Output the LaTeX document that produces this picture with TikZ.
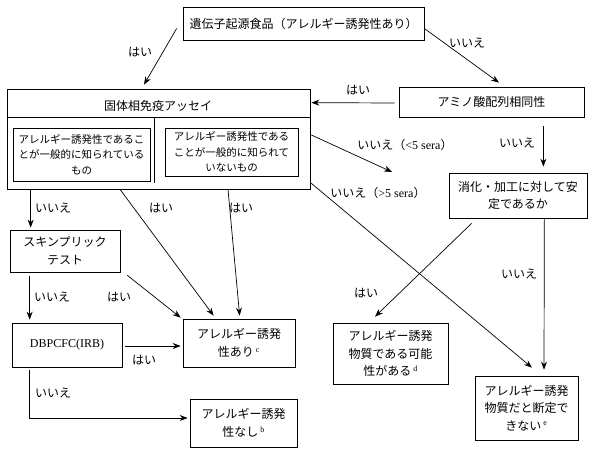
\documentclass[tikz,border=0pt]{standalone}
\usepackage{fontspec}
\setmainfont{Liberation Serif}
\newfontfamily\jp{Noto Sans CJK JP}
\usepackage{tikz}
\usetikzlibrary{arrows.meta}

\tikzset{
  box/.style={draw, align=center, inner sep=0pt, font=\jp\fontsize{12}{17.5}\selectfont},
  subbox/.style={draw, align=center, inner sep=0pt, font=\jp\fontsize{10.5}{15.5}\selectfont},
  lbl/.style={inner sep=0pt, font=\jp\fontsize{12}{14}\selectfont},
  arr/.style={-{Stealth[length=8pt, width=6pt]}},
}

\begin{document}
\begin{tikzpicture}[x=1pt, y=-1pt, line width=0.7pt]
        \useasboundingbox (0,0) rectangle (597,452);

        % boxes
        \node[box, minimum width=241pt, minimum height=33pt] (food) at (303.5,23.5) {遺伝子起源食品（アレルギー誘発性あり）};
        \node[draw, minimum width=303pt, minimum height=100pt] (assay) at (158.5,139) {};
        \node[lbl] (assaytitle) at (158,106) {固体相免疫アッセイ};
        \draw ([shift={(0,29)}]assay.north west) -- ([shift={(0,29)}]assay.north east);
        \draw ([shift={(148,29)}]assay.north west) -- ([shift={(148,94)}]assay.north west);
        \node[subbox, minimum width=137pt, minimum height=53pt] (known) at (81.5,154.5) {アレルギー誘発性であるこ\\とが一般的に知られている\\もの};
        \node[subbox, minimum width=133pt, minimum height=48pt] (unknown) at (231.5,152) {アレルギー誘発性である\\ことが一般的に知られて\\いないもの};
        \node[box, minimum width=185pt, minimum height=30pt] (amino) at (491.5,102) {アミノ酸配列相同性};
        \node[box, minimum width=138pt, minimum height=45pt] (stable) at (518,195.5) {消化・加工に対して安\\定であるか};
        \node[box, minimum width=115pt, minimum height=61pt] (possible) at (390.5,353.5) {アレルギー誘発\\物質である可能\\性がある\,\textsuperscript{\rmfamily d}};
        \node[box, minimum width=103pt, minimum height=64pt] (undecided) at (526.5,408) {アレルギー誘発\\物質だと断定で\\きない\,\textsuperscript{\rmfamily e}};
        \node[box, minimum width=110pt, minimum height=42pt] (skin) at (65,251) {スキンプリック\\テスト};
        \node[box, minimum width=110pt, minimum height=44pt] (dbpcfc) at (67,345) {\rmfamily DBPCFC(IRB)};
        \node[box, minimum width=112pt, minimum height=48pt] (yes) at (239,343) {アレルギー誘発\\性あり\,\textsuperscript{\rmfamily c}};
        \node[box, minimum width=107pt, minimum height=48pt] (no) at (243.5,423) {アレルギー誘発\\性なし\,\textsuperscript{\rmfamily b}};

        % connectors
        \draw[arr] ([shift={(-6,5)}]food.west) -- ([shift={(-14.5,-4)}]assay.north);
        \draw[arr] ([shift={(0,5)}]food.east) -- ([shift={(7.5,-4)}]amino.north);
        \draw[arr] ([shift={(-4,1)}]amino.west) -- ([shift={(1,14)}]assay.north east);
        \draw[arr] ([shift={(-41,9)}]amino.south east) -- ([shift={(-44,-6)}]stable.north east);
        \draw[arr] ([shift={(1,-4)}]assay.east) -- (392,172);
        \draw[arr] ([shift={(1,-6)}]assay.south east) -- ([shift={(5.5,-8)}]undecided.north);
        \draw[arr] ([shift={(23,5)}]stable.south west) -- ([shift={(-15.5,-6)}]possible.north);
        \draw[arr] ([shift={(-43,0)}]stable.south east) -- ([shift={(17.5,-6)}]undecided.north);
        \draw[arr] ([shift={(24,0)}]assay.south west) -- ([shift={(21,-2)}]skin.north west);
        \draw[arr] ([shift={(20,4)}]skin.south west) -- ([shift={(18,-3)}]dbpcfc.north west);
        \draw[arr] ([shift={(7,3)}]skin.south east) -- ([shift={(-2,-1)}]yes.north west);
        \draw[arr] ([shift={(-38.5,0)}]assay.south) -- ([shift={(31,-3)}]yes.north west);
        \draw[arr] ([shift={(69.5,0)}]assay.south) -- ([shift={(57,-3)}]yes.north west);
        \draw[arr] ([shift={(3,1)}]dbpcfc.east) -- ([shift={(-2,3)}]yes.west);
        \draw[arr] ([shift={(18,3)}]dbpcfc.south west) |- ([shift={(-2,-5)}]no.west);

        % labels
        \node[lbl] (yes1) at (140,52) {はい};
        \node[lbl] (no1) at (467,43) {いいえ};
        \node[lbl] (yes2) at (358,90) {はい};
        \node[lbl] (no2) at (517,143) {いいえ};
        \node[lbl] (noless) at (405,145) {いいえ（{\rmfamily <5 sera}）};
        \node[lbl] (nomore) at (378,193) {いいえ（{\rmfamily >5 sera}）};
        \node[lbl] (yes3) at (366,293) {はい};
        \node[lbl] (no3) at (519,274) {いいえ};
        \node[lbl] (no4) at (53,208) {いいえ};
        \node[lbl] (yes4) at (161,208) {はい};
        \node[lbl] (yes5) at (241,208) {はい};
        \node[lbl] (no5) at (52,297) {いいえ};
        \node[lbl] (yes6) at (119,297) {はい};
        \node[lbl] (yes7) at (144,360) {はい};
        \node[lbl] (no6) at (53,393) {いいえ};
\end{tikzpicture}
\end{document}
